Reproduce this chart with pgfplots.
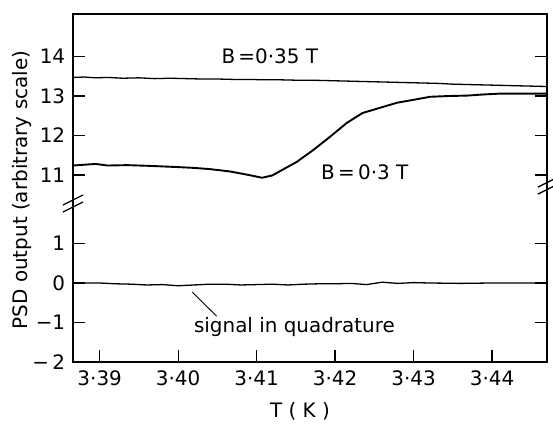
\documentclass[border=0pt]{standalone}
\usepackage{fontspec}
\setmainfont{DejaVu Sans}
\usepackage{pgfplots}
\pgfplotsset{compat=1.18}
\begin{document}
\fontsize{20}{23}\selectfont
\begin{tikzpicture}
\begin{axis}[
  at={(0,0)}, anchor=south west,
  scale only axis, width=474bp, height=348bp,
  xmin=3.3866, xmax=3.447, ymin=-2, ymax=6.81,
  axis line style={line width=1.5bp},
  xtick={3.39,3.40,3.41,3.42,3.43,3.44},
  xticklabels={3·39,3·40,3·41,3·42,3·43,3·44},
  ytick={-2,-1,0,1,2.734,3.734,4.734,5.734},
  yticklabels={−\,2,−1,0,1,11,12,13,14},
  tick align=inside, xtick pos=bottom, ytick pos=both,
  major tick length=12bp,
  tick style={line width=1.3bp, black},
  ticklabel style={font=\fontsize{20}{23}\selectfont},
  xticklabel style={yshift=-2bp},
  yticklabel style={xshift=-1bp},
  clip=false,
]
% B = 0.35 T (values in real units, shifted by the axis break)
\addplot[black, line width=1.3bp, y filter/.expression={y-8.266}] coordinates {
(3.3866,13.47) (3.3880,13.48) (3.3895,13.46) (3.3910,13.47) (3.3930,13.45)
(3.3950,13.46) (3.3970,13.44) (3.3990,13.45) (3.4010,13.44) (3.4030,13.43)
(3.4050,13.43) (3.4070,13.42) (3.4090,13.42) (3.4110,13.41) (3.4130,13.41)
(3.4150,13.40) (3.4170,13.40) (3.4190,13.39) (3.4210,13.38) (3.4230,13.37)
(3.4250,13.36) (3.4270,13.35) (3.4290,13.34) (3.4310,13.33) (3.4330,13.32)
(3.4350,13.30) (3.4370,13.29) (3.4390,13.28) (3.4410,13.27) (3.4430,13.26)
(3.4450,13.25) (3.4470,13.24)
};
% B = 0.3 T
\addplot[black, line width=1.9bp, y filter/.expression={y-8.266}] coordinates {
(3.3866,11.24) (3.3880,11.26) (3.3895,11.28) (3.3910,11.24) (3.3935,11.25)
(3.3965,11.23) (3.4000,11.20) (3.4020,11.18) (3.4040,11.15) (3.4066,11.09)
(3.4090,11.00) (3.4107,10.93) (3.4120,10.99) (3.4130,11.10) (3.4151,11.33)
(3.4172,11.63) (3.4193,11.96) (3.4215,12.32) (3.4235,12.57) (3.4257,12.70)
(3.4279,12.83) (3.4299,12.90) (3.4321,12.98) (3.4345,13.00) (3.4368,13.01)
(3.4390,13.04) (3.4410,13.06) (3.4440,13.06) (3.4470,13.06)
};
% signal in quadrature
\addplot[black, line width=1.3bp] coordinates {
(3.3866,0.00) (3.3900,0.00) (3.3920,-0.02) (3.3940,-0.03) (3.3960,-0.05)
(3.3980,-0.04) (3.4000,-0.07) (3.4020,-0.05) (3.4040,-0.03) (3.4060,-0.03)
(3.4080,-0.05) (3.4100,-0.04) (3.4120,-0.03) (3.4140,-0.05) (3.4160,-0.03)
(3.4180,-0.02) (3.4200,-0.02) (3.4220,-0.01) (3.4240,-0.04) (3.4260,0.02)
(3.4280,-0.01) (3.4300,0.01) (3.4320,0.00) (3.4360,-0.01) (3.4400,0.00)
(3.4470,0.00)
};
% annotations
\node[anchor=west, inner sep=0pt] at (axis cs:3.4055,5.74) {B\,=0·35 T};
\node[anchor=west, inner sep=0pt] at (axis cs:3.4182,2.80) {B\,=\,0·3 T};
\node[anchor=west, inner sep=0pt] at (axis cs:3.4020,-1.12) {signal in quadrature};
\draw[line width=0.9bp] (axis cs:3.4018,-0.23) -- (axis cs:3.4049,-0.84);
% axis break marks
\draw[line width=1.3bp] ([xshift=-10bp,yshift=-9bp]axis cs:3.3866,2.025) -- ++(20bp,10bp);
\draw[line width=1.3bp] ([xshift=-10bp,yshift=-2bp]axis cs:3.3866,2.025) -- ++(20bp,10bp);
\draw[line width=1.3bp] ([xshift=-9bp,yshift=-9bp]axis cs:3.447,2.48) -- ++(18bp,9bp);
\draw[line width=1.3bp] ([xshift=-9bp,yshift=-2bp]axis cs:3.447,2.48) -- ++(18bp,9bp);
\end{axis}
\node[rotate=90] at (-51bp,172bp) {PSD output (arbitrary scale)};
\node at (227bp,-49bp) {T ( K )};
\pgfresetboundingbox
\path[use as bounding box] (-73bp,-62bp) rectangle (480bp,362bp);
\end{tikzpicture}
\end{document}
